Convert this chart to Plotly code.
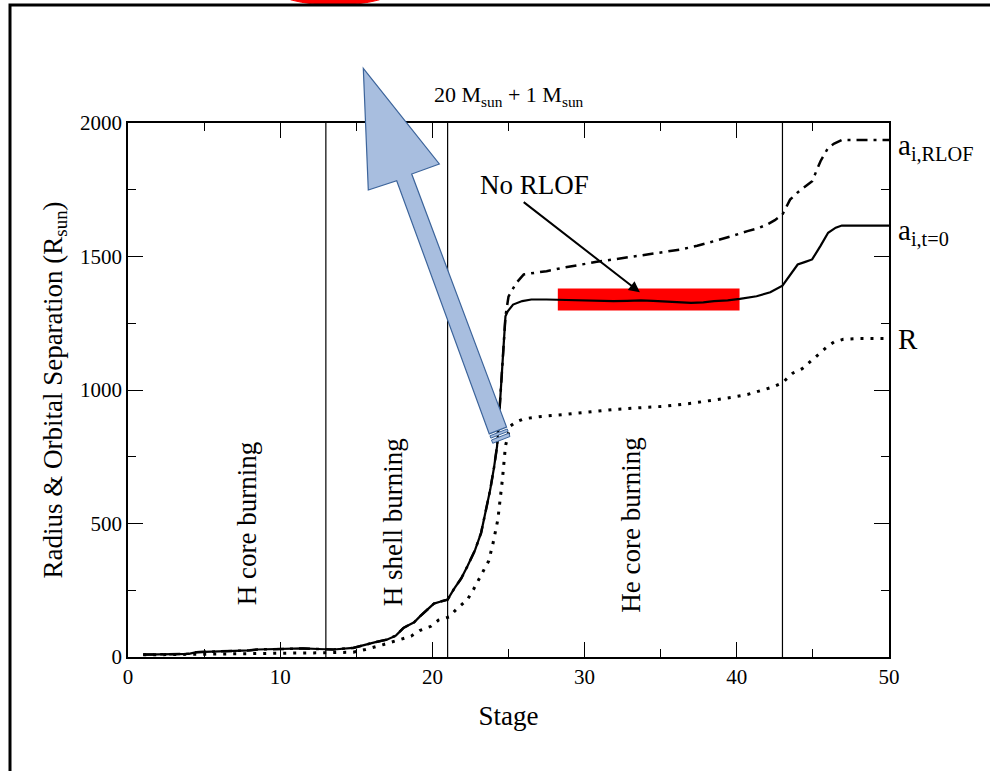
import plotly.graph_objects as go
import math

# ---------------- data ----------------
stage_a0 = [1, 2, 3, 4, 4.5, 6, 7, 8, 8.5, 10, 10.5, 11.5, 12.5, 13.5, 14.8, 15.5, 16.2, 17.0,
            17.6, 18.1, 18.8, 19.2, 19.7, 20.1, 20.5, 21.0, 21.4, 21.9, 22.3, 22.8, 23.2, 23.5,
            23.8, 24.05, 24.25, 24.45, 24.65, 24.8, 24.95, 25.3, 25.9, 26.5, 27.5, 28.5, 29.7,
            30.8, 31.9, 32.8, 33.7, 34.5, 35.2, 36.0, 37.0, 37.8, 38.5, 39.4, 40.2, 41.3, 42.2,
            43.0, 43.5, 44.0, 44.5, 44.95, 45.5, 46.0, 46.5, 46.9, 48, 50]
sep_a0 = [9, 10, 11, 12, 18, 20, 22, 25, 28, 30, 33, 32, 30, 28, 34, 45, 55, 65,
          80, 109, 130, 153, 180, 200, 207, 215, 253, 295, 340, 400, 465, 540,
          627, 710, 790, 960, 1150, 1276, 1295, 1320, 1333, 1339, 1339, 1337, 1336,
          1335, 1333, 1334, 1336, 1334, 1331, 1328, 1326, 1328, 1333, 1336, 1341, 1351, 1366,
          1391, 1430, 1470, 1480, 1489, 1540, 1589, 1608, 1616, 1616, 1616]

stage_rlof = [1, 2, 3, 4, 4.5, 6, 7, 8, 8.5, 10, 10.5, 11.5, 12.5, 13.5, 14.8, 15.5, 16.2, 17.0,
              17.6, 18.1, 18.8, 19.2, 19.7, 20.1, 20.5, 21.0, 21.4, 21.9, 22.3, 22.8, 23.2, 23.5,
              23.8, 24.05, 24.25, 24.45, 24.65, 24.8, 25.0, 25.5, 26.0, 26.7, 27.5, 28.6, 29.7,
              30.8, 31.9, 33.0, 34.1, 35.2, 36.3, 37.4, 38.5, 39.6, 40.7, 41.4, 42.0, 42.5, 43.0,
              43.5, 44.0, 44.5, 44.95, 45.5, 46.0, 46.4, 46.9, 48, 50]
sep_rlof = [9, 10, 11, 12, 18, 20, 22, 25, 28, 30, 33, 32, 30, 28, 34, 45, 55, 65,
            80, 109, 130, 153, 180, 200, 207, 215, 253, 295, 340, 400, 465, 540,
            627, 710, 790, 960, 1150, 1276, 1350, 1400, 1433, 1439, 1445, 1458, 1470,
            1480, 1489, 1498, 1508, 1516, 1526, 1540, 1557, 1575, 1595, 1606, 1620, 1636, 1657,
            1713, 1740, 1763, 1782, 1857, 1907, 1923, 1936, 1936, 1936]

stage_r = [1, 3, 5, 7, 9, 11, 13, 14.8, 15.6, 16.8, 17.9, 18.6, 19.2, 19.9, 20.4, 21.1, 21.6,
           22.3, 22.7, 23.3, 23.7, 24.0, 24.3, 24.6, 24.8, 25.1, 25.5, 26.0, 27.0, 28.6, 30.0,
           31.9, 33.5, 35.2, 37.0, 38.5, 39.6, 40.7, 41.6, 42.4, 43.0, 43.7, 44.3, 44.8, 45.2,
           45.6, 46.0, 46.4, 47, 48, 50]
radius_r = [8, 9, 10, 12, 13, 15, 16, 18, 28, 47, 65, 78, 100, 115, 138, 150, 180,
            215, 253, 315, 360, 430, 515, 665, 790, 864, 880, 892, 900, 908, 917,
            927, 933, 939, 950, 962, 972, 983, 997, 1012, 1027, 1064, 1080, 1104, 1125,
            1145, 1165, 1180, 1190, 1193, 1193]

phase_boundaries = [13, 21, 43]
phase_labels = ["H core burning", "H shell burning", "He core burning"]
phase_label_x = [7.83, 17.46, 33.07]
phase_label_y = [498, 504, 493]

no_rlof_range = [28.24, 40.18]
no_rlof_sep = [1298, 1380]

x_ticks = [0, 10, 20, 30, 40, 50]
y_ticks = [0, 500, 1000, 1500, 2000]

# ---------------- layout geometry ----------------
W, H = 990, 771
ML, MR, MT, MB = 128, 101, 123, 114
PW, PH = W - ML - MR, H - MT - MB
FONT = "Liberation Serif, Times New Roman, serif"


def paper(px, py):
    return (px - ML) / PW, (MT + PH - py) / PH


fig = go.Figure()

fig.add_trace(go.Scatter(x=stage_rlof, y=sep_rlof, mode="lines",
                         line=dict(color="black", width=2.5, dash="11px,6px,3px,6px"),
                         hoverinfo="skip", showlegend=False))
fig.add_trace(go.Scatter(x=stage_a0, y=sep_a0, mode="lines",
                         line=dict(color="black", width=2.2),
                         hoverinfo="skip", showlegend=False))
fig.add_trace(go.Scatter(x=stage_r, y=radius_r, mode="lines",
                         line=dict(color="black", width=3, dash="3px,7px"),
                         hoverinfo="skip", showlegend=False))

shapes = []
# red highlight bar (below traces)
shapes.append(dict(type="rect", xref="x", yref="y", x0=no_rlof_range[0], x1=no_rlof_range[1],
                   y0=no_rlof_sep[0], y1=no_rlof_sep[1], fillcolor="#ff0000",
                   line=dict(width=0), layer="below"))
# phase boundaries
for xb in phase_boundaries:
    shapes.append(dict(type="line", xref="x", yref="y", x0=xb, x1=xb, y0=0, y1=2000,
                       line=dict(color="black", width=1.2)))

# blue block arrow (decoration, pixel geometry -> paper)
tip = (363.3, 68.3)
headR = (439.3, 164.0)
joinR = (411.7, 174.0)
tailR = (510.0, 436.5)
tailL = (492.7, 443.3)
joinL = (396.7, 180.7)
headL = (368.3, 190.0)
dx, dy = tailL[0] - joinL[0], tailL[1] - joinL[1]
n = math.hypot(dx, dy)
dx, dy = dx / n, dy / n


def back(p, d):
    return (p[0] - dx * d, p[1] - dy * d)


def path_from(pts):
    s = ""
    for i, (px, py) in enumerate(pts):
        u, v = paper(px, py)
        s += ("M" if i == 0 else "L") + f"{u:.5f},{v:.5f} "
    return s + "Z"


ARROW_FILL = "rgb(168,190,223)"
ARROW_LINE = "rgb(60,100,155)"
body = [tip, headR, joinR, back(tailR, 10), back(tailL, 10), joinL, headL]
shapes.append(dict(type="path", xref="paper", yref="paper", path=path_from(body),
                   fillcolor=ARROW_FILL, line=dict(color=ARROW_LINE, width=1.2)))
for a, b in [(8, 5.5), (3.5, 0)]:
    stripe = [back(tailR, a), back(tailR, b), back(tailL, b), back(tailL, a)]
    shapes.append(dict(type="path", xref="paper", yref="paper", path=path_from(stripe),
                       fillcolor=ARROW_FILL, line=dict(color=ARROW_LINE, width=1)))

# red ellipse at the top edge (mostly cut off)
ex0, ey0 = paper(275, -27)
ex1, ey1 = paper(395, 5)
shapes.append(dict(type="circle", xref="paper", yref="paper", x0=ex0, x1=ex1, y0=ey0, y1=ey1,
                   fillcolor="#ff0000", line=dict(color="#ff0000", width=1)))
# outer black frame
fx0, fy0 = paper(10, 5)
fx1, fy1 = paper(1010, 800)
shapes.append(dict(type="rect", xref="paper", yref="paper", x0=fx0, x1=fx1, y0=fy1, y1=fy0,
                   line=dict(color="black", width=3), fillcolor="rgba(0,0,0,0)"))

annotations = []
for lab, lx, ly in zip(phase_labels, phase_label_x, phase_label_y):
    annotations.append(dict(x=lx, y=ly, xref="x", yref="y", text=lab, textangle=-90,
                            showarrow=False, font=dict(family=FONT, size=27, color="black")))

annotations.append(dict(x=23.0, y=1766, xref="x", yref="y", text="No RLOF", xanchor="left",
                        yanchor="middle", showarrow=False,
                        font=dict(family=FONT, size=27, color="black")))
annotations.append(dict(x=33.63, y=1366, xref="x", yref="y", ax=25.9, ay=1708,
                        axref="x", ayref="y", text="", showarrow=True, arrowhead=2,
                        arrowsize=1.1, arrowwidth=2, arrowcolor="black", standoff=0))

tx, ty = paper(509.5, 96)
annotations.append(dict(x=tx, y=ty, xref="paper", yref="paper",
                        text="20 M<sub>sun</sub> + 1 M<sub>sun</sub>", showarrow=False,
                        yanchor="middle",
                        font=dict(family=FONT, size=22, color="black")))

for txt, py in [("a<sub>i,RLOF</sub>", 147), ("a<sub>i,t=0</sub>", 232), ("R", 339)]:
    u, v = paper(896, py)
    annotations.append(dict(x=u, y=v, xref="paper", yref="paper", text=txt, xanchor="left",
                            yanchor="middle", showarrow=False,
                            font=dict(family=FONT, size=29, color="black")))

axis_common = dict(showgrid=False, zeroline=False, showline=True, linecolor="black",
                   linewidth=1.5, mirror="ticks", ticks="inside", ticklen=15, tickwidth=1.3,
                   tickcolor="black", tickfont=dict(family=FONT, size=21, color="black"))

fig.update_layout(
    width=W, height=H,
    margin=dict(l=ML, r=MR, t=MT, b=MB, pad=0),
    paper_bgcolor="white", plot_bgcolor="white",
    shapes=shapes, annotations=annotations,
    xaxis=dict(range=[0, 50], tickvals=x_ticks, ticktext=[str(t) for t in x_ticks],
               minor=dict(dtick=5, tick0=0, ticks="inside", ticklen=8, tickcolor="black",
                          tickwidth=1.3),
               title=dict(text="Stage", font=dict(family=FONT, size=27, color="black"),
                          standoff=18),
               **axis_common),
    yaxis=dict(range=[0, 2000], tickvals=y_ticks, ticktext=[str(t) for t in y_ticks],
               minor=dict(dtick=250, tick0=0, ticks="inside", ticklen=8, tickcolor="black",
                          tickwidth=1.3),
               title=dict(text="Radius &amp; Orbital Separation (R<sub>sun</sub>)",
                          font=dict(family=FONT, size=27, color="black"), standoff=10),
               **axis_common),
    showlegend=False,
)

fig.write_html("out.html", config={"displayModeBar": False},
               post_script="document.body.style.margin='0';document.body.style.overflow='hidden';")
